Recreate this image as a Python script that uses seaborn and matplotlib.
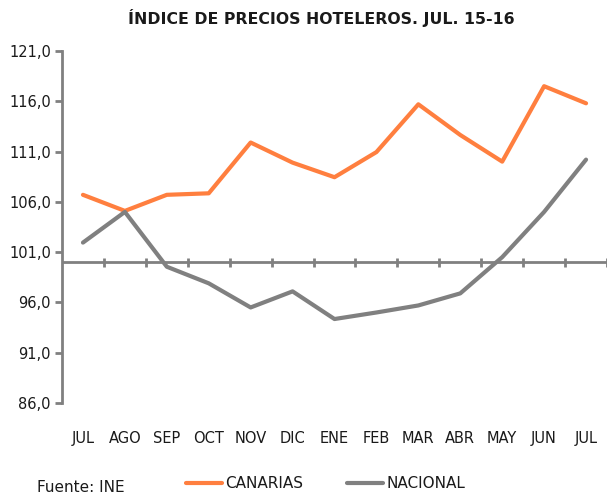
import pandas as pd
import matplotlib
matplotlib.use("Agg")
import matplotlib.pyplot as plt
from matplotlib.ticker import FuncFormatter
import seaborn as sns

# Data
months = ["JUL", "AGO", "SEP", "OCT", "NOV", "DIC", "ENE", "FEB", "MAR", "ABR", "MAY", "JUN", "JUL"]
canarias = [106.7, 105.1, 106.7, 106.85, 111.9, 109.9, 108.45, 110.95, 115.7, 112.65, 110.0, 117.5, 115.8]
nacional = [101.95, 105.0, 99.55, 97.9, 95.5, 97.1, 94.35, 95.0, 95.7, 96.9, 100.5, 105.0, 110.2]
series_names = ["CANARIAS", "NACIONAL"]
colors = ["#FF7F3F", "#808080"]

df = pd.DataFrame({
    "pos": list(range(len(months))) * 2,
    "value": canarias + nacional,
    "serie": [series_names[0]] * len(months) + [series_names[1]] * len(months),
})

sns.set_style("white")
plt.rcParams["font.family"] = ["DejaVu Sans"]

fig = plt.figure(figsize=(6.09, 4.96), dpi=100)
ax = fig.add_axes([62 / 609, 1 - 403 / 496, (607 - 62) / 609, (403 - 51) / 496])

sns.lineplot(data=df, x="pos", y="value", hue="serie", palette=colors,
             linewidth=3, ax=ax, legend=True)

axis_gray = "#808080"
text_col = "#1a1a1a"
ax.set_xlim(-0.5, len(months) - 0.5)
ax.set_ylim(86, 121)
ax.set_yticks([86 + 5 * i for i in range(8)])
ax.yaxis.set_major_formatter(FuncFormatter(lambda v, p: f"{v:.1f}".replace(".", ",")))

# horizontal base line at 100 with category boundary ticks
ax.axhline(100, color=axis_gray, lw=2, zorder=1)
ax.vlines([i + 0.5 for i in range(len(months))], 99.55, 100.45, color=axis_gray, lw=2, zorder=1)

ax.set_xticks(range(len(months)))
ax.set_xticklabels(months)
ax.tick_params(axis="x", length=0, pad=20, labelsize=10.5, labelcolor=text_col)
ax.tick_params(axis="y", left=True, length=5, width=2, color=axis_gray, pad=3,
               labelsize=10.5, labelcolor=text_col, direction="out")

for s in ["top", "right", "bottom"]:
    ax.spines[s].set_visible(False)
ax.spines["left"].set_color(axis_gray)
ax.spines["left"].set_linewidth(2)

ax.set_xlabel("")
ax.set_ylabel("")

fig.text(321 / 609, 1 - 18 / 496, "ÍNDICE DE PRECIOS HOTELEROS. JUL. 15-16", ha="center", va="center",
         fontsize=11.3, fontweight="bold", color=text_col)
fig.text(37 / 609, 1 - 487 / 496, "Fuente: INE", ha="left", va="center", fontsize=11, color=text_col)

leg = ax.legend(loc="center left", bbox_to_anchor=(186 / 609, 1 - 484 / 496),
                bbox_transform=fig.transFigure, ncol=2, frameon=False,
                borderpad=0, borderaxespad=0,
                handlelength=2.35, handletextpad=0.2, columnspacing=2.9,
                fontsize=11, title=None)
for t in leg.get_texts():
    t.set_color(text_col)

fig.savefig("out.png", dpi=100)
